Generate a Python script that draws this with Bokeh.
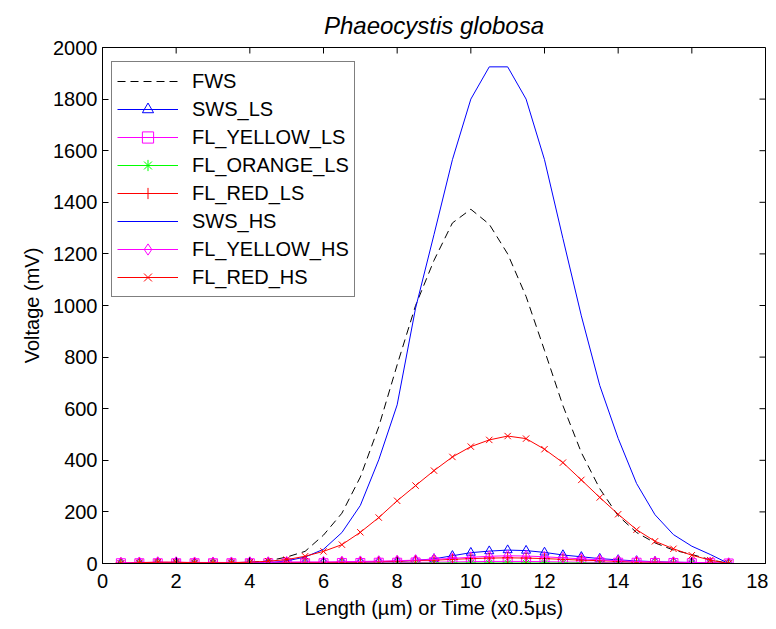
import math
from bokeh.plotting import figure
from bokeh.models import Range1d, FixedTicker
from bokeh.embed import file_html
from bokeh.resources import INLINE

# ---- data ----
x_vals = [0.5, 1.0, 1.5, 2.0, 2.5, 3.0, 3.5, 4.0, 4.5, 5.0, 5.5, 6.0, 6.5, 7.0, 7.5, 8.0, 8.5,
          9.0, 9.5, 10.0, 10.5, 11.0, 11.5, 12.0, 12.5, 13.0, 13.5, 14.0, 14.5, 15.0, 15.5, 16.0, 16.5, 17.0]

fws = [0, 3, 4, 4, 2, 2, 3, 5, 10, 25, 47, 110, 195, 335, 530, 770, 1000,
       1175, 1320, 1373, 1315, 1200, 1035, 826, 612, 430, 290, 185, 120, 80, 52, 35, 15, 0]
sws_ls = [0, 2, 3, 3, 2, 2, 2, 3, 3, 4, 4, 4, 4, 5, 6, 8, 12,
          18, 30, 42, 48, 52, 50, 43, 33, 26, 19, 14, 10, 7, 5, 4, 2, 0]
fl_yellow_ls = [1, 1, 1, 1, 1, 1, 1, 1, 1, 1, 1, 1, 2, 2, 3, 3, 4,
                5, 6, 7, 8, 8, 8, 7, 6, 5, 4, 3, 3, 2, 2, 1, 1, 0]
fl_orange_ls = [0, 1, 1, 1, 1, 1, 1, 1, 1, 1, 1, 1, 1, 1, 1, 1, 1,
                2, 2, 2, 2, 2, 2, 2, 2, 2, 1, 1, 1, 1, 1, 1, 1, 0]
fl_red_ls = [2, 3, 3, 3, 3, 3, 3, 3, 3, 3, 4, 4, 5, 6, 7, 9, 11,
             13, 16, 19, 21, 22, 21, 19, 16, 13, 11, 8, 6, 5, 4, 3, 2, 0]
sws_hs = [0, 2, 3, 3, 2, 2, 2, 3, 3, 10, 25, 55, 120, 225, 402, 615, 990,
          1275, 1565, 1800, 1925, 1925, 1800, 1565, 1260, 960, 690, 485, 310, 189, 112, 67, 35, 0]
fl_yellow_hs = [3, 4, 5, 5, 4, 4, 4, 5, 5, 6, 6, 6, 7, 8, 9, 11, 13,
                16, 20, 24, 28, 30, 29, 26, 22, 18, 14, 11, 8, 6, 5, 4, 3, 1]
fl_red_hs = [0, 3, 5, 5, 3, 3, 3, 5, 9, 15, 28, 47, 73, 121, 178, 243, 302,
             360, 413, 453, 479, 494, 484, 443, 391, 324, 256, 191, 131, 86, 57, 32, 13, 0]

x_ticks = [0, 2, 4, 6, 8, 10, 12, 14, 16, 18]
y_ticks = [0, 200, 400, 600, 800, 1000, 1200, 1400, 1600, 1800, 2000]
x_min, x_max = 0, 18
y_min, y_max = 0, 2000

FONT = "Liberation Sans"

p = figure(width=768, height=621, output_backend="svg", toolbar_location=None,
           x_range=Range1d(x_min, x_max), y_range=Range1d(y_min, y_max),
           min_border_left=102, min_border_right=3, min_border_top=46, min_border_bottom=57,
           title="Phaeocystis globosa")
p.background_fill_color = "white"
p.border_fill_color = "white"
p.outline_line_color = "black"
p.outline_line_width = 1
p.xgrid.visible = False
p.ygrid.visible = False

p.title.align = "center"
p.title.text_font = FONT
p.title.text_font_style = "italic"
p.title.text_font_size = "24px"
p.title.text_color = "black"
p.title.standoff = 18

p.xaxis.ticker = FixedTicker(ticks=x_ticks)
p.yaxis.ticker = FixedTicker(ticks=y_ticks)
for ax in (p.xaxis[0], p.yaxis[0]):
    ax.axis_line_color = "black"
    ax.major_tick_line_color = "black"
    ax.major_tick_in = 6
    ax.major_tick_out = 0
    ax.minor_tick_in = 0
    ax.minor_tick_out = 0
    ax.major_label_text_font = FONT
    ax.major_label_text_font_size = "20px"
    ax.major_label_text_color = "black"
    ax.axis_label_text_font = FONT
    ax.axis_label_text_font_size = "20px"
    ax.axis_label_text_font_style = "normal"
    ax.axis_label_text_color = "black"
p.xaxis.major_label_standoff = 10
p.yaxis.major_label_standoff = 5
p.xaxis.axis_label_standoff = 6
p.yaxis.axis_label_standoff = 7
p.xaxis.axis_label = "Length (µm) or Time (x0.5µs)"
p.yaxis.axis_label = "Voltage (mV)"

# inward ticks on the top and right edges of the box (MATLAB style)
p.ray(x=x_ticks, y=y_max, length=6, length_units="screen", angle=-math.pi / 2,
      line_color="black", line_width=1)
p.ray(x=x_max, y=y_ticks, length=6, length_units="screen", angle=math.pi,
      line_color="black", line_width=1)

BLUE = "#0000ff"
MAG = "#ff00ff"
GREEN = "#00ff00"
RED = "#ff0000"

p.line(x_vals, fws, color="black", line_width=1, line_dash="8 5", legend_label="FWS")

p.line(x_vals, sws_ls, color=BLUE, line_width=1, legend_label="SWS_LS")
p.scatter(x_vals, sws_ls, marker="triangle", size=9, line_color=BLUE, fill_color=None, legend_label="SWS_LS")

p.line(x_vals, fl_yellow_ls, color=MAG, line_width=1, legend_label="FL_YELLOW_LS")
p.scatter(x_vals, fl_yellow_ls, marker="square", size=9, line_color=MAG, fill_color=None, legend_label="FL_YELLOW_LS")

p.line(x_vals, fl_orange_ls, color=GREEN, line_width=1, legend_label="FL_ORANGE_LS")
p.scatter(x_vals, fl_orange_ls, marker="asterisk", size=9, line_color=GREEN, fill_color=None, legend_label="FL_ORANGE_LS")

p.line(x_vals, fl_red_ls, color=RED, line_width=1, legend_label="FL_RED_LS")
p.scatter(x_vals, fl_red_ls, marker="cross", size=11, line_color=RED, fill_color=None, legend_label="FL_RED_LS")

p.line(x_vals, sws_hs, color=BLUE, line_width=1, legend_label="SWS_HS")

p.line(x_vals, fl_yellow_hs, color=MAG, line_width=1, legend_label="FL_YELLOW_HS")
p.scatter(x_vals, fl_yellow_hs, marker="diamond", size=11, line_color=MAG, fill_color=None, legend_label="FL_YELLOW_HS")

p.line(x_vals, fl_red_hs, color=RED, line_width=1, legend_label="FL_RED_HS")
p.scatter(x_vals, fl_red_hs, marker="x", size=9, line_color=RED, fill_color=None, legend_label="FL_RED_HS")

lg = p.legend[0]
lg.location = (9, 266)
lg.border_line_color = "black"
lg.border_line_width = 1
lg.background_fill_color = "white"
lg.background_fill_alpha = 1
lg.label_text_font = FONT
lg.label_text_font_size = "20px"
lg.label_text_color = "black"
lg.glyph_width = 61
lg.glyph_height = 28
lg.label_height = 28
lg.spacing = 0
lg.padding = 5
lg.margin = 0
lg.label_standoff = 14

open("out.html", "w").write(file_html(p, INLINE))
